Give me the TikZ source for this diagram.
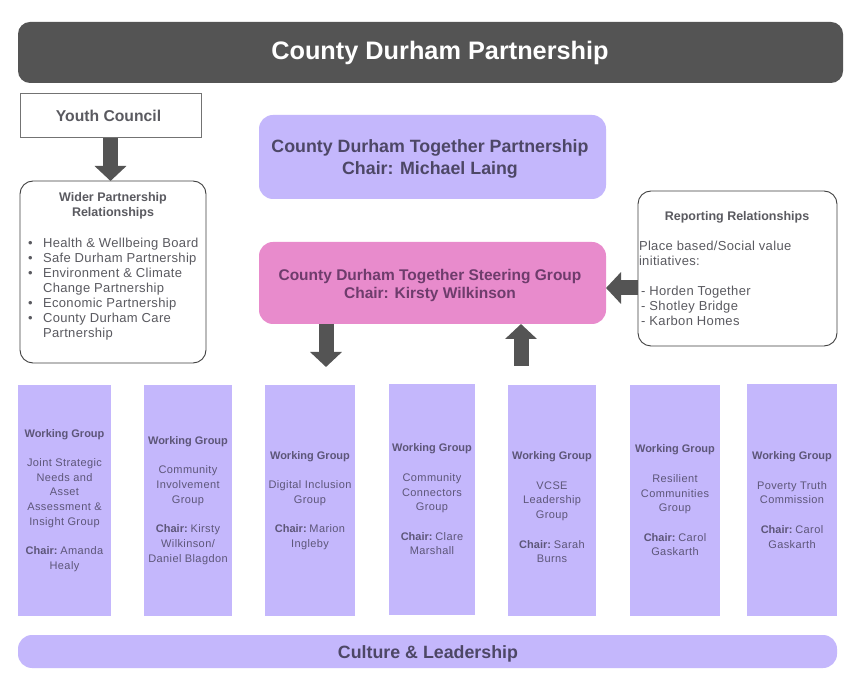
\documentclass[tikz,border=0pt]{standalone}
\usepackage{fontspec}
\setmainfont{Liberation Sans}
\newfontfamily\listfont[LetterSpace=2.6,BoldFeatures={LetterSpace=0}]{Liberation Sans}
\newfontfamily\wgfont[LetterSpace=3.6,BoldFeatures={LetterSpace=0}]{Liberation Sans}
\usetikzlibrary{arrows.meta}
\definecolor{darkbar}{HTML}{545454}
\definecolor{lilac}{HTML}{C4B7FC}
\definecolor{pinkbox}{HTML}{E88BCC}
\definecolor{lilacink}{HTML}{4D4766}
\definecolor{wgink}{HTML}{5D5679}
\definecolor{pinkink}{HTML}{6E3C6C}
\definecolor{greyink}{HTML}{5A5A60}
\newcommand{\lh}[2]{\fontsize{#1}{#2}\selectfont}
\newcommand{\wgchair}{\textbf{Chair:}\hspace{2.8pt}}
\tikzset{
  base/.style={inner sep=0pt,outer sep=0pt,align=center},
  titlebar/.style={base,fill=darkbar,rounded corners=12pt},
  plainbox/.style={base,draw=black!55,line width=1pt,fill=white},
  whitebox/.style={base,draw=black!75,line width=.9pt,fill=white,rounded corners=13pt},
  lilacbox/.style={base,fill=lilac,rounded corners=14pt},
  pinkrounded/.style={base,fill=pinkbox,rounded corners=14pt},
  wgbox/.style={base,fill=lilac,text=wgink,font=\wgfont\lh{11}{14.7},minimum height=231pt},
  inbox/.style={base,text=greyink},
  blockarrow/.style={draw=darkbar,line width=15pt,-{Triangle[length=15pt,width=31pt,fill=darkbar]}}
}
\begin{document}
\begin{tikzpicture}[x=1pt,y=-1pt]
\useasboundingbox (0,0) rectangle (860,684);
\fill[white] (0,0) rectangle (860,684);

\node[titlebar,minimum width=825pt,minimum height=61pt] (title) at (430.5,52.5) {};
\node[base,text=white,font=\bfseries\lh{25.3}{30}] (titletext) at (440,53) {County Durham Partnership};

\node[plainbox,minimum width=181pt,minimum height=44pt] (youth) at (110.5,116) {};
\node[base,text=greyink,font=\bfseries\lh{15.7}{19}] (youthtext) at (108.5,115.5) {Youth Council};

\node[whitebox,minimum width=186pt,minimum height=182pt] (wider) at (113,272) {};
\node[inbox,font=\bfseries\lh{12.5}{15}] (widerhead) at (113,206) {Wider Partnership\\Relationships};
\node[inbox,anchor=north west,align=left,font=\listfont\lh{13}{15}] (widerlist) at (28,237) {%
\begin{tabular}{@{}l@{\hspace{10.5pt}}l@{}}
\textbullet & Health \& Wellbeing Board\\
\textbullet & Safe Durham Partnership\\
\textbullet & Environment \& Climate\\
 & Change Partnership\\
\textbullet & Economic Partnership\\
\textbullet & County Durham Care\\
 & Partnership
\end{tabular}};

\node[lilacbox,minimum width=347pt,minimum height=84pt] (cdtp) at (432.5,157) {};
\node[base,text=lilacink,font=\bfseries\lh{17.8}{22}] (cdtptext) at (430,159) {County Durham Together Partnership\\Chair: Michael Laing};

\node[pinkrounded,minimum width=347pt,minimum height=82pt] (steer) at (432.5,283) {};
\node[base,text=pinkink,font=\bfseries\lh{15.5}{18}] (steertext) at (430,285.5) {County Durham Together Steering Group\\Chair: Kirsty Wilkinson};

\node[whitebox,minimum width=199pt,minimum height=155pt] (report) at (737.5,268.5) {};
\node[inbox,font=\bfseries\lh{12.5}{15}] (reporthead) at (737,217) {Reporting Relationships};
\node[inbox,anchor=north west,align=left,font=\listfont\lh{13}{15}] (reporttext) at (639,241) {Place based/Social value\\initiatives:\\[15pt]\,- Horden Together\\\,- Shotley Bridge\\\,- Karbon Homes};

\node[wgbox,minimum width=93pt] (wg1) at (64.5,500.5) {\textbf{Working Group}\\[14.7pt]Joint Strategic\\Needs and\\Asset\\Assessment \&\\Insight Group\\[14.7pt]\wgchair Amanda\\Healy};
\node[wgbox,minimum width=88pt] (wg2) at (188,500.5) {\textbf{Working Group}\\[14.7pt]Community\\Involvement\\Group\\[14.7pt]\wgchair Kirsty\\Wilkinson/\\Daniel Blagdon};
\node[wgbox,minimum width=90pt] (wg3) at (310,500.5) {\textbf{Working Group}\\[14.7pt]Digital Inclusion\\Group\\[14.7pt]\wgchair Marion\\Ingleby};
\node[wgbox,minimum width=86pt] (wg4) at (432,499.5) {\textbf{Working Group}\\[14.7pt]Community\\Connectors\\Group\\[14.7pt]\wgchair Clare\\Marshall};
\node[wgbox,minimum width=88pt] (wg5) at (552,500.5) {\mbox{}\\[7pt]\textbf{Working Group}\\[14.7pt]VCSE\\Leadership\\Group\\[14.7pt]\wgchair Sarah\\Burns};
\node[wgbox,minimum width=90pt] (wg6) at (675,500.5) {\textbf{Working Group}\\[14.7pt]Resilient\\Communities\\Group\\[14.7pt]\wgchair Carol\\Gaskarth};
\node[wgbox,minimum width=90pt] (wg7) at (792,500) {\textbf{Working Group}\\[14.7pt]Poverty Truth\\Commission\\[14.7pt]\wgchair Carol\\Gaskarth};

\node[lilacbox,minimum width=819pt,minimum height=33pt] (culture) at (427.5,651.5) {};
\node[base,text=lilacink,font=\bfseries\lh{17.8}{22}] (culturetext) at (428,653.5) {Culture \& Leadership};

\coordinate (downend) at (326,367);
\coordinate (upstart) at (521,366);
\coordinate (leftrow) at (620,288);
\draw[blockarrow] (youth.south) -- (youth.south |- wider.north);
\draw[blockarrow] (steer.south -| downend) -- (downend);
\draw[blockarrow] (upstart) -- (upstart |- steer.south);
\draw[blockarrow] (report.west |- leftrow) -- (steer.east |- leftrow);
\end{tikzpicture}
\end{document}
